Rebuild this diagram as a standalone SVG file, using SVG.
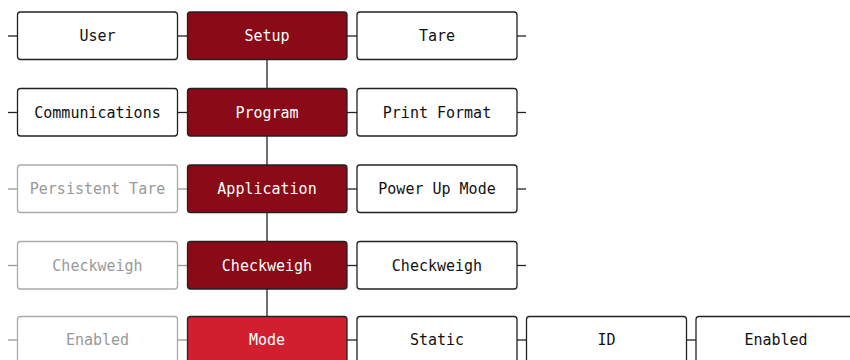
<svg xmlns="http://www.w3.org/2000/svg" width="850" height="360" viewBox="0 0 850 360">
<style>
.b rect{fill:#fff;stroke:#222;stroke-width:1.3}
.g rect{fill:#fff;stroke:#aaa;stroke-width:1.3}
.d rect{fill:#8a0a17;stroke:#222;stroke-width:1.3}
.m rect{fill:#d11f30;stroke:#222;stroke-width:1.3}
text{font-family:"DejaVu Sans Mono",monospace;font-size:15px;text-anchor:middle;dominant-baseline:central}
.b text{fill:#111}
.g text{fill:#999}
.d text,.m text{fill:#fff}
.c line{stroke:#222;stroke-width:1.3}
.c line.gl{stroke:#999}
</style>
<g class="c" id="connectors">
<line x1="8" y1="36" x2="17.5" y2="36"/>
<line x1="177.5" y1="36" x2="187.5" y2="36"/>
<line x1="347" y1="36" x2="357" y2="36"/>
<line x1="517" y1="36" x2="526" y2="36"/>
<line x1="8" y1="112.5" x2="17.5" y2="112.5"/>
<line x1="177.5" y1="112.5" x2="187.5" y2="112.5"/>
<line x1="347" y1="112.5" x2="357" y2="112.5"/>
<line x1="517" y1="112.5" x2="526" y2="112.5"/>
<line class="gl" x1="8" y1="189" x2="17.5" y2="189"/>
<line class="gl" x1="177.5" y1="189" x2="187.5" y2="189"/>
<line x1="347" y1="189" x2="357" y2="189"/>
<line x1="517" y1="189" x2="526" y2="189"/>
<line class="gl" x1="8" y1="265.5" x2="17.5" y2="265.5"/>
<line class="gl" x1="177.5" y1="265.5" x2="187.5" y2="265.5"/>
<line x1="347" y1="265.5" x2="357" y2="265.5"/>
<line x1="517" y1="265.5" x2="526" y2="265.5"/>
<line class="gl" x1="8" y1="340" x2="17.5" y2="340"/>
<line class="gl" x1="177.5" y1="340" x2="187.5" y2="340"/>
<line x1="347" y1="340" x2="357" y2="340"/>
<line x1="517" y1="340" x2="526.5" y2="340"/>
<line x1="686.5" y1="340" x2="696" y2="340"/>
<line x1="267" y1="59.5" x2="267" y2="88.5"/>
<line x1="267" y1="136" x2="267" y2="165"/>
<line x1="267" y1="212.5" x2="267" y2="241.5"/>
<line x1="267" y1="289" x2="267" y2="316.5"/>
</g>
<g id="user" class="b"><rect x="17.5" y="12" width="160" height="47.5" rx="3"/><text x="97.5" y="36">User</text></g>
<g id="setup" class="d"><rect x="187.5" y="12" width="159.5" height="47.5" rx="3"/><text x="267" y="36">Setup</text></g>
<g id="tare" class="b"><rect x="357" y="12" width="160" height="47.5" rx="3"/><text x="437" y="36">Tare</text></g>
<g id="communications" class="b"><rect x="17.5" y="88.5" width="160" height="47.5" rx="3"/><text x="97.5" y="112.5">Communications</text></g>
<g id="program" class="d"><rect x="187.5" y="88.5" width="159.5" height="47.5" rx="3"/><text x="267" y="112.5">Program</text></g>
<g id="printformat" class="b"><rect x="357" y="88.5" width="160" height="47.5" rx="3"/><text x="437" y="112.5">Print Format</text></g>
<g id="persistenttare" class="g"><rect x="17.5" y="165" width="160" height="47.5" rx="3"/><text x="97.5" y="189">Persistent Tare</text></g>
<g id="application" class="d"><rect x="187.5" y="165" width="159.5" height="47.5" rx="3"/><text x="267" y="189">Application</text></g>
<g id="powerupmode" class="b"><rect x="357" y="165" width="160" height="47.5" rx="3"/><text x="437" y="189">Power Up Mode</text></g>
<g id="checkweigh1" class="g"><rect x="17.5" y="241.5" width="160" height="47.5" rx="3"/><text x="97.5" y="265.5">Checkweigh</text></g>
<g id="checkweigh2" class="d"><rect x="187.5" y="241.5" width="159.5" height="47.5" rx="3"/><text x="267" y="265.5">Checkweigh</text></g>
<g id="checkweigh3" class="b"><rect x="357" y="241.5" width="160" height="47.5" rx="3"/><text x="437" y="265.5">Checkweigh</text></g>
<g id="enabled1" class="g"><rect x="17.5" y="316.5" width="160" height="47.5" rx="3"/><text x="97.5" y="340">Enabled</text></g>
<g id="mode" class="m"><rect x="187.5" y="316.5" width="159.5" height="47.5" rx="3"/><text x="267" y="340">Mode</text></g>
<g id="static" class="b"><rect x="357" y="316.5" width="160" height="47.5" rx="3"/><text x="437" y="340">Static</text></g>
<g id="id" class="b"><rect x="526.5" y="316.5" width="160" height="47.5" rx="3"/><text x="606.5" y="340">ID</text></g>
<g id="enabled2" class="b"><rect x="696" y="316.5" width="160" height="47.5" rx="3"/><text x="776" y="340">Enabled</text></g>
</svg>
